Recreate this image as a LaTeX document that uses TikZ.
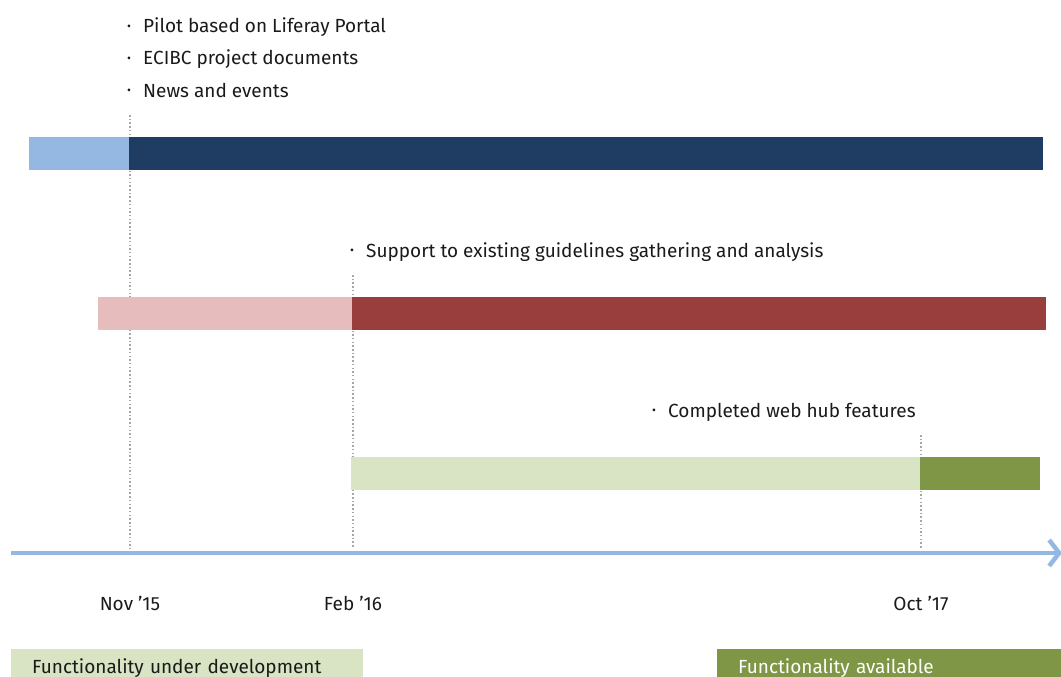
\documentclass[tikz,border=0pt]{standalone}
\usepackage{fontspec}
\setmainfont{Fira Sans}
\usetikzlibrary{positioning,arrows.meta}

\definecolor{webblue}{HTML}{95B8E2}
\definecolor{webnavy}{HTML}{1F3D62}
\definecolor{guidepink}{HTML}{E6BCBC}
\definecolor{guidered}{HTML}{993D3D}
\definecolor{hubpale}{HTML}{D8E4C3}
\definecolor{hubgreen}{HTML}{7E9645}
\definecolor{dotgray}{HTML}{A6A6A6}
\definecolor{inkgray}{HTML}{1A1A1A}

\newcommand{\itm}[1]{\makebox[16pt][l]{\raisebox{0.12em}{\fontsize{12}{12}\selectfont\textbullet}}#1}

\begin{document}
\begin{tikzpicture}[x=1pt,y=-1pt,
  every node/.style={font=\fontsize{19}{22}\selectfont,text=inkgray,inner sep=0pt},
  item/.style={anchor=base west},
  milestone/.style={dotgray,line width=1.5pt,dash pattern=on 1.5pt off 2.2pt},
  legendbox/.style={anchor=north west,minimum width=352pt,inner ysep=0pt,
    inner xsep=21pt,text width=310pt,text height=24pt,text depth=10pt,align=left}]
  \useasboundingbox (0,0) rectangle (1061,677);

  % milestones and dates
  \foreach \n/\x/\top/\lbl in {nov/130/115/Nov '15,feb/353/275/Feb '16,oct/921/435/Oct '17} {
    \coordinate (\n top) at (\x,\top);
    \coordinate (\n) at (\x,548);
    \draw[milestone] (\n top) -- (\n);
    \node[anchor=base] (\n lbl) at (\x,610) {\lbl};
  }

  % bars
  \foreach \y/\xa/\xb/\xc/\ca/\cb in {137/29/129/1043/webblue/webnavy,297/98/352/1046/guidepink/guidered,457/351/920/1040/hubpale/hubgreen} {
    \fill[\ca] (\xa,\y) rectangle (\xb,\y+33);
    \fill[\cb] (\xb,\y) rectangle (\xc,\y+33);
  }

  % time axis
  \coordinate (t0) at (11,553);
  \coordinate (t1) at (1062,553);
  \draw[webblue,line width=4.5pt,-{Straight Barb[length=10pt,width=26pt]}] (t0) -- (t1);

  \node[item] (pilot) at (127,33) {\itm{Pilot based on Liferay Portal}};
  \node[item] (docs) at (127,65) {\itm{ECIBC project documents}};
  \node[item] (news) at (127,97) {\itm{News and events}};
  \node[item] (support) at (350,257) {\itm{Support to existing guidelines gathering and analysis}};
  \node[item] (hub) at (652,417) {\itm{Completed web hub features}};

  % legend
  \node[legendbox,fill=hubpale] (dev) at (11,649) {Functionality under development};
  \node[legendbox,fill=hubgreen,text=white] (avail) at (717,649) {Functionality available};
\end{tikzpicture}
\end{document}
